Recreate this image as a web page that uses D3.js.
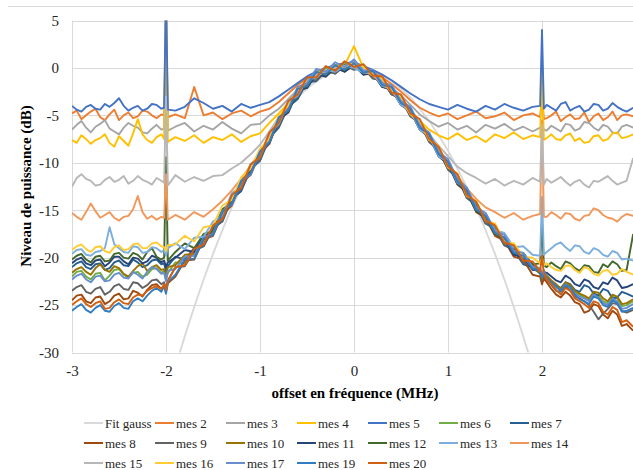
<!DOCTYPE html>
<html><head><meta charset="utf-8">
<script src="https://cdn.jsdelivr.net/npm/d3@7"></script>
<style>body{margin:0;background:#fff}svg{display:block}
svg text{font-family:"Liberation Serif","Times New Roman","DejaVu Serif",serif;}</style>
</head><body><svg id="c" width="633" height="470"></svg>
<script>
// ---- data ----
const freqMHz = [-3.0,-2.95,-2.9,-2.85,-2.8,-2.75,-2.7,-2.65,-2.6,-2.55,-2.5,-2.45,-2.4,-2.35,-2.3,-2.25,-2.2,-2.15,-2.1,-2.05,
 -2.02,-2.0,-1.98,
 -1.9,-1.8,-1.7,-1.6,-1.5,-1.4,-1.3,-1.2,-1.1,-1.0,-0.9,-0.8,-0.7,-0.6,-0.5,-0.4,-0.3,-0.2,-0.1,
 0.0,0.1,0.2,0.3,0.4,0.5,0.6,0.7,0.8,0.9,1.0,1.1,1.2,1.3,1.4,1.5,1.6,1.7,1.8,1.9,
 1.98,2.0,2.02,
 2.05,2.1,2.15,2.2,2.25,2.3,2.35,2.4,2.45,2.5,2.55,2.6,2.65,2.7,2.75,2.8,2.85,2.9,2.97];
const fitX = [-1.9,-1.8,-1.7,-1.6,-1.5,-1.4,-1.3,-1.2,-1.1,-1.0,-0.9,-0.8,-0.7,-0.6,-0.5,-0.4,-0.3,-0.2,-0.1,0,
 0.1,0.2,0.3,0.4,0.5,0.6,0.7,0.8,0.9,1.0,1.1,1.2,1.3,1.4,1.5,1.6,1.7,1.8,1.9];
const fitGauss = [-31.5,-28.3,-25.2,-22.3,-19.6,-17.1,-14.7,-12.6,-10.6,-8.7,-7.1,-5.6,-4.3,-3.1,-2.2,-1.4,-0.8,-0.3,-0.1,0,
 -0.1,-0.3,-0.8,-1.4,-2.2,-3.1,-4.3,-5.6,-7.1,-8.7,-10.6,-12.6,-14.7,-17.1,-19.6,-22.3,-25.2,-28.3,-31.5];

const mes2 = [-4.8,-4.5,-5.4,-5.0,-4.6,-4.3,-5.2,-5.5,-4.9,-4.4,-5.5,-5.0,-4.7,-5.3,-5.1,-4.5,-4.6,-5.0,-5.3,-4.9,
 -5.0,-0.9,-5.2,
 -4.9,-5.3,-2.0,-5.0,-4.7,-5.4,-4.8,-4.5,-5.1,-4.6,-4.3,-3.6,-2.7,-1.8,-1.1,-0.6,-0.2,0.1,0.3,0.4,
 -0.1,-0.4,-1.0,-1.7,-2.5,-3.4,-4.2,-4.7,-5.1,-4.8,-5.4,-5.0,-4.6,-5.3,-5.1,-4.7,-5.5,-5.0,-4.8,
 -5.2,-3.0,-5.4,
 -5.3,-5.0,-4.6,-5.6,-5.2,-4.9,-5.4,-5.3,-4.7,-5.7,-5.1,-4.8,-5.5,-5.2,-4.6,-5.5,-5.0,-4.9,-5.1];
const mes3 = [-6.5,-6.0,-5.6,-6.3,-6.8,-6.2,-5.9,-5.5,-6.4,-6.7,-7.0,-6.3,-5.8,-6.1,-6.3,-6.8,-6.9,-6.4,-6.0,-6.5,
 -6.4,8,-6.6,
 -6.2,-5.8,-6.7,-6.1,-6.5,-5.7,-6.4,-6.9,-6.0,-5.9,-5.0,-4.3,-3.3,-2.3,-1.4,-0.9,-0.5,-0.2,0.1,0.2,
 -0.4,-0.8,-1.4,-2.1,-2.9,-3.9,-4.9,-5.6,-6.2,-5.8,-6.5,-6.1,-6.8,-6.0,-6.4,-5.9,-6.6,-6.2,-6.7,
 -6.3,-6.0,-6.5,
 -6.6,-6.1,-6.4,-6.7,-5.9,-6.0,-6.6,-6.4,-5.7,-5.8,-6.3,-6.6,-6.0,-6.2,-6.8,-6.9,-6.2,-6.0,-6.3];
const mes4 = [-7.6,-7.9,-7.1,-7.5,-8.0,-7.6,-7.4,-7.0,-7.9,-8.3,-7.2,-7.7,-8.2,-6.9,-5.4,-7.0,-7.6,-7.9,-7.3,-7.0,
 -7.5,8,-7.8,
 -7.3,-7.7,-7.1,-7.9,-7.3,-7.6,-7.0,-7.8,-7.2,-6.9,-5.8,-4.8,-3.7,-2.6,-1.5,-0.8,-0.4,0.1,0.3,2.3,
 0.0,-0.5,-1.2,-2.2,-3.2,-4.4,-5.6,-6.5,-7.1,-7.5,-6.9,-7.6,-7.2,-7.8,-7.0,-7.4,-6.8,-7.5,-7.1,
 -7.3,-0.3,-7.6,
 -7.4,-7.0,-7.5,-7.6,-7.1,-6.9,-7.7,-7.4,-7.9,-7.8,-7.2,-7.1,-7.7,-7.5,-6.9,-6.8,-7.4,-7.3,-7.0];
const mes5 = [-4.0,-4.4,-4.6,-4.1,-3.9,-4.3,-4.4,-3.8,-4.1,-3.7,-3.2,-4.0,-4.5,-4.2,-4.0,-4.5,-4.3,-3.8,-3.9,-4.3,
 -4.2,8,-4.4,
 -4.5,-4.1,-3.2,-3.7,-4.3,-4.0,-4.6,-3.8,-4.2,-3.9,-3.6,-3.0,-2.3,-1.6,-0.9,-0.4,0.0,0.3,0.5,0.6,
 0.2,-0.2,-0.7,-1.3,-2.0,-2.7,-3.3,-3.8,-4.1,-4.4,-3.9,-4.3,-4.6,-4.0,-4.4,-3.8,-4.2,-4.5,-4.1,
 -4.0,4.0,-4.3,
 -3.9,-4.2,-4.5,-3.8,-3.6,-4.5,-4.2,-4.0,-4.6,-4.4,-3.8,-3.9,-4.5,-4.3,-3.7,-4.1,-4.4,-4.6,-4.2];
const mes6 = [-22.0,-21.5,-21.4,-22.0,-22.3,-21.7,-21.6,-22.4,-21.9,-21.3,-21.2,-21.8,-22.1,-21.6,-21.5,-22.0,-21.8,-21.2,-21.1,-21.6,
 -21.4,-22.3,-21.6,
 -20.5,-20.6,-19.2,-18.5,-16.7,-15.8,-13.5,-12.6,-10.4,-9.5,-7.0,-5.9,-3.7,-2.9,-1.1,-1.1,0.0,-0.4,0.5,0.0,
 0.2,-0.9,-1.1,-2.7,-3.0,-5.0,-5.6,-7.7,-8.4,-10.5,-11.3,-13.5,-14.2,-16.2,-16.7,-18.5,-18.8,-20.4,-20.5,
 -21.3,-22.0,-21.5,
 -22.0,-22.6,-23.1,-23.4,-22.7,-23.0,-23.7,-23.9,-24.2,-24.5,-23.8,-24.0,-24.6,-24.8,-24.1,-24.3,-25.1,-25.0,-24.6];
const mes7 = [-21.0,-20.6,-20.4,-21.0,-21.2,-20.7,-20.6,-21.3,-21.1,-20.5,-20.3,-20.8,-20.9,-20.2,-20.5,-21.0,-20.8,-20.3,-20.2,-20.7,
 -20.6,-21.5,-20.9,
 -19.9,-20.2,-19.0,-18.8,-16.9,-16.2,-13.8,-13.0,-10.7,-9.8,-7.4,-6.3,-4.1,-3.3,-1.5,-1.4,-0.3,-0.6,0.2,-0.1,
 0.0,-1.1,-1.3,-2.8,-3.2,-5.1,-5.8,-7.8,-8.7,-10.7,-11.6,-13.7,-14.5,-16.4,-17.0,-18.7,-19.2,-20.7,-21.0,
 -21.7,-22.3,-21.9,
 -22.0,-22.5,-22.9,-23.2,-22.6,-22.8,-23.4,-23.6,-22.9,-23.1,-23.8,-24.0,-23.3,-23.5,-24.3,-24.2,-23.6,-23.8,-24.1];
const mes8 = [-24.5,-24.0,-23.9,-24.6,-24.8,-24.2,-24.1,-24.9,-24.6,-24.0,-23.8,-24.4,-24.3,-23.5,-23.7,-24.1,-23.4,-22.9,-22.8,-23.3,
 -23.0,-23.6,-22.7,
 -22.0,-20.3,-20.2,-18.1,-17.7,-15.4,-14.5,-12.1,-11.3,-9.0,-8.0,-5.4,-4.7,-2.4,-2.1,-0.6,-0.9,0.1,-0.4,0.3,
 -0.7,-0.5,-2.0,-2.2,-3.9,-4.5,-6.5,-7.2,-9.3,-10.1,-12.3,-13.1,-15.2,-15.8,-17.7,-18.2,-19.9,-20.2,-21.8,
 -22.0,-22.8,-22.2,
 -22.6,-23.3,-23.9,-24.2,-23.6,-24.0,-24.7,-24.9,-25.8,-25.6,-24.9,-25.1,-26.0,-26.4,-25.6,-26.0,-27.2,-27.0,-27.7];
const mes9 = [-23.5,-23.1,-22.9,-23.6,-23.8,-23.3,-23.1,-23.9,-23.6,-23.0,-22.8,-23.3,-23.4,-22.6,-22.7,-23.2,-22.9,-22.4,-22.3,-22.8,
 -22.6,-23.3,-22.4,
 -21.0,-20.9,-19.3,-18.8,-16.9,-16.1,-13.7,-12.8,-10.5,-9.7,-7.2,-6.1,-3.9,-3.1,-1.3,-1.3,-0.2,-0.6,0.3,-0.2,
 0.0,-1.1,-1.3,-2.8,-3.2,-5.1,-5.8,-7.8,-8.6,-10.7,-11.5,-13.7,-14.4,-16.4,-16.9,-18.7,-19.0,-20.6,-20.7,
 -21.6,-22.4,-21.8,
 -22.3,-22.9,-23.5,-23.6,-23.0,-23.4,-24.1,-24.3,-24.6,-25.0,-25.7,-26.5,-25.9,-25.4,-24.8,-24.9,-25.6,-25.8,-25.5];
const mes10 = [-21.6,-21.2,-21.0,-21.5,-21.8,-21.1,-20.7,-21.3,-21.5,-20.9,-21.1,-21.7,-22.0,-21.4,-20.9,-20.6,-21.4,-21.0,-20.8,-21.3,
 -21.2,-22.0,-21.0,
 -20.8,-19.7,-19.6,-17.9,-17.4,-15.2,-14.3,-12.0,-11.1,-8.8,-7.8,-5.2,-4.5,-2.2,-1.9,-0.4,-0.7,0.3,-0.2,0.5,
 -0.5,-0.4,-1.8,-2.1,-3.7,-4.4,-6.3,-7.1,-9.1,-9.9,-12.0,-12.9,-14.9,-15.6,-17.4,-17.9,-19.5,-19.8,-21.2,
 -21.5,-22.2,-21.6,
 -21.9,-22.4,-22.8,-23.3,-22.6,-22.9,-23.5,-23.8,-24.0,-24.3,-23.6,-23.7,-24.3,-24.6,-23.9,-24.1,-24.9,-24.8,-24.4];
const mes11 = [-20.6,-20.2,-20.0,-20.6,-20.8,-20.3,-20.2,-20.9,-20.5,-19.9,-19.9,-20.4,-20.7,-20.0,-20.1,-20.6,-20.4,-19.8,-20.0,-20.5,
 -20.3,-21.0,-20.5,
 -20.0,-19.2,-19.4,-17.6,-17.5,-15.2,-14.4,-12.0,-11.2,-8.9,-7.9,-5.4,-4.7,-2.4,-2.1,-0.7,-0.9,0.0,-0.4,0.3,
 -0.7,-0.6,-2.0,-2.3,-3.9,-4.6,-6.5,-7.3,-9.3,-10.1,-12.2,-13.1,-15.1,-15.7,-17.5,-18.0,-19.7,-19.9,-21.3,
 -21.3,-21.9,-21.5,
 -21.6,-22.0,-22.4,-22.6,-21.9,-22.2,-22.8,-23.0,-22.3,-22.5,-23.1,-23.3,-22.6,-22.8,-22.1,-22.4,-23.2,-23.1,-22.8];
const mes12 = [-20.2,-19.8,-19.6,-20.2,-20.5,-19.9,-19.8,-20.4,-20.3,-19.6,-19.5,-20.0,-20.1,-19.5,-19.7,-20.2,-19.4,-19.0,-19.9,-20.2,
 -20.0,-9.4,-20.3,
 -19.4,-18.5,-19.0,-17.5,-17.2,-14.9,-14.2,-11.8,-11.0,-8.7,-7.8,-5.4,-4.5,-2.4,-1.9,-0.6,-0.7,0.0,-0.2,0.3,
 -0.5,-0.6,-1.8,-2.3,-3.7,-4.5,-6.4,-7.2,-9.2,-10.0,-12.1,-13.0,-15.0,-15.7,-17.5,-18.0,-19.4,-19.5,-20.7,
 -20.6,-16.5,-20.8,
 -21.0,-20.5,-20.9,-21.2,-20.4,-20.6,-21.1,-21.4,-20.8,-20.9,-21.5,-21.6,-20.7,-21.0,-20.4,-20.7,-21.4,-21.3,-17.5];
const mes13 = [-19.6,-19.2,-19.1,-19.7,-19.8,-19.4,-19.3,-19.0,-16.8,-18.6,-19.0,-19.4,-19.5,-18.8,-18.9,-19.5,-19.4,-18.9,-19.0,-19.4,
 -19.2,-19.8,-19.0,
 -18.5,-19.1,-17.9,-17.8,-16.2,-15.6,-13.2,-12.5,-10.1,-9.4,-6.9,-5.9,-3.7,-2.9,-1.3,-1.0,-0.2,-0.4,0.2,0.0,
 -0.5,-0.6,-1.9,-2.2,-3.9,-4.5,-6.5,-7.2,-9.3,-9.9,-12.1,-12.7,-14.9,-15.3,-17.1,-17.4,-18.9,-18.8,-19.7,
 -19.8,-13.6,-19.7,
 -19.4,-19.0,-18.6,-18.4,-18.9,-19.3,-18.7,-18.8,-19.4,-19.6,-19.0,-19.2,-19.7,-19.9,-19.3,-19.5,-20.2,-20.1,-20.3];
const mes14 = [-15.3,-15.7,-16.0,-15.2,-14.3,-15.1,-15.8,-15.5,-15.2,-15.8,-16.1,-15.7,-15.6,-14.9,-13.5,-15.2,-15.9,-15.6,-16.0,-15.7,
 -15.8,-11.2,-16.0,
 -15.5,-16.0,-15.2,-15.7,-14.9,-14.0,-12.9,-11.7,-10.3,-8.9,-7.2,-5.4,-3.9,-2.5,-1.4,-0.8,-0.4,0.0,0.2,0.2,
 -0.3,-0.8,-1.6,-2.5,-3.5,-4.8,-6.1,-7.4,-8.7,-10.0,-11.4,-12.7,-13.8,-14.7,-15.2,-15.8,-15.3,-16.0,-15.6,
 -15.4,-5.5,-15.7,
 -15.7,-15.2,-15.5,-15.9,-15.3,-15.4,-15.9,-16.1,-15.6,-15.5,-14.8,-15.0,-15.5,-15.8,-15.9,-16.2,-15.7,-15.4,-15.6];
const mes15 = [-12.5,-11.6,-11.2,-11.7,-11.9,-12.4,-12.3,-11.8,-11.5,-12.0,-11.8,-11.4,-12.2,-11.9,-11.4,-11.8,-12.0,-12.3,-11.6,-11.9,
 -12.1,-3.0,-12.4,
 -11.3,-12.0,-11.5,-11.9,-11.4,-11.3,-10.6,-10.0,-9.1,-8.1,-6.7,-5.2,-3.9,-2.5,-1.4,-0.7,-0.3,0.0,0.2,0.3,
 -0.1,-0.6,-1.3,-2.3,-3.3,-4.5,-5.8,-7.0,-8.2,-9.3,-10.4,-11.1,-11.6,-12.2,-11.7,-12.4,-11.9,-12.3,-11.6,
 -12.0,-6.0,-12.3,
 -11.7,-12.1,-11.8,-11.5,-12.0,-12.4,-12.0,-11.8,-12.3,-12.6,-11.9,-12.0,-11.7,-11.4,-11.9,-12.3,-12.1,-11.9,-9.5];
const mes16 = [-19.2,-18.8,-18.6,-19.1,-19.4,-18.9,-18.8,-19.3,-19.5,-18.9,-18.7,-19.2,-19.1,-18.6,-18.5,-19.0,-19.0,-18.5,-18.4,-18.8,
 -18.9,-19.3,-18.7,
 -18.6,-17.7,-18.3,-16.8,-16.6,-14.5,-13.9,-11.5,-10.6,-8.5,-7.5,-5.0,-4.0,-2.1,-1.5,-0.4,-0.3,0.3,0.1,0.5,
 0.1,-0.7,-1.1,-2.5,-3.0,-4.9,-5.5,-7.6,-8.2,-10.5,-11.1,-13.5,-14.0,-16.1,-16.4,-18.3,-18.5,-19.9,-20.0,
 -20.6,-20.0,-20.8,
 -20.6,-21.0,-21.3,-21.4,-20.9,-20.8,-21.3,-21.6,-21.0,-21.2,-21.7,-21.9,-21.4,-21.3,-21.8,-21.7,-21.2,-21.5,-21.8];
const mes17 = [-22.3,-21.9,-21.7,-22.3,-22.6,-22.0,-21.9,-22.5,-22.4,-21.8,-21.6,-22.1,-22.2,-21.5,-21.8,-22.2,-21.5,-21.0,-21.2,-21.7,
 -21.6,-22.5,-21.4,
 -21.2,-19.9,-19.8,-17.9,-17.5,-15.1,-14.4,-12.0,-11.2,-8.9,-7.8,-5.3,-4.4,-2.0,-1.6,-0.1,-0.4,0.6,0.1,0.9,
 -0.3,-0.2,-1.6,-1.8,-3.5,-4.1,-6.1,-6.8,-8.9,-9.6,-11.8,-12.6,-14.7,-15.3,-17.2,-17.6,-19.3,-19.5,-21.0,
 -21.1,-21.8,-21.3,
 -22.2,-22.7,-23.1,-23.5,-22.8,-23.2,-23.8,-24.1,-24.3,-24.6,-23.9,-24.2,-24.8,-25.0,-24.3,-24.6,-25.4,-25.3,-24.9];
const mes19 = [-25.6,-25.2,-24.9,-25.5,-25.8,-25.3,-25.0,-25.6,-25.7,-25.1,-24.8,-25.3,-25.4,-24.6,-24.3,-24.6,-24.0,-23.5,-23.2,-23.6,
 -23.0,-23.8,-22.6,
 -21.8,-20.2,-20.1,-18.0,-17.6,-15.2,-14.3,-11.9,-11.1,-8.8,-7.8,-5.2,-4.5,-2.2,-1.9,-0.4,-0.7,0.3,-0.2,0.5,
 -0.5,-0.3,-1.8,-2.0,-3.7,-4.3,-6.3,-7.0,-9.1,-9.9,-12.0,-12.9,-14.9,-15.6,-17.4,-17.9,-19.5,-19.8,-21.2,
 -21.4,-22.1,-21.6,
 -22.2,-22.6,-23.0,-23.5,-22.9,-23.1,-23.9,-24.4,-24.6,-24.9,-24.1,-24.3,-25.0,-25.2,-24.5,-24.8,-25.7,-25.6,-25.3];
const mes20 = [-25.0,-24.6,-24.3,-24.9,-25.2,-24.8,-24.6,-25.4,-25.3,-24.7,-24.4,-24.8,-24.9,-24.2,-23.9,-24.0,-23.5,-23.2,-23.0,-23.3,
 -22.8,-23.4,-22.5,
 -21.0,-20.8,-19.1,-18.6,-16.6,-15.9,-13.4,-12.6,-10.2,-9.4,-6.8,-5.8,-3.5,-2.8,-1.0,-1.0,0.2,-0.3,0.7,0.1,
 0.4,-0.8,-0.9,-2.6,-2.8,-4.8,-5.4,-7.5,-8.3,-10.4,-11.2,-13.4,-14.1,-16.1,-16.6,-18.4,-18.7,-20.3,-20.4,
 -21.5,-19.8,-21.7,
 -22.3,-22.8,-23.4,-23.9,-23.2,-23.5,-24.3,-24.6,-24.9,-25.3,-24.6,-24.8,-25.7,-26.0,-25.2,-25.5,-26.8,-26.6,-27.3];

const seriesNames = ["Fit gauss","mes 2","mes 3","mes 4","mes 5","mes 6","mes 7","mes 8","mes 9","mes 10",
 "mes 11","mes 12","mes 13","mes 14","mes 15","mes 16","mes 17","mes 19","mes 20"];
const seriesColors = ["#D9D9D9","#ED7D31","#A5A5A5","#FFC000","#4472C4","#70AD47","#255E91","#9E480E","#636363","#997300",
 "#264478","#43682B","#7CAFDD","#F1975A","#B7B7B7","#FFCD33","#698ED0","#327DC2","#D26012"];
const yTicks = [5,0,-5,-10,-15,-20,-25,-30];
const xTicks = [-3,-2,-1,0,1,2];
const xTitle = "offset en fréquence (MHz)";
const yTitle = "Niveau de puissance (dB)";

const measValues = [mes2,mes3,mes4,mes5,mes6,mes7,mes8,mes9,mes10,mes11,mes12,mes13,mes14,mes15,mes16,mes17,mes19,mes20];
const series = [{name: seriesNames[0], color: seriesColors[0], pts: fitX.map((f,i)=>[f, fitGauss[i]])}]
  .concat(measValues.map((arr,k)=>({name: seriesNames[k+1], color: seriesColors[k+1], pts: freqMHz.map((f,i)=>[f, arr[i]])})));

// ---- drawing ----
const svg = d3.select("#c");
const W = 633, H = 470;
const L = 72, R = 636, T = 20.5, B = 352.5;
const x = d3.scaleLinear().domain([-3,3]).range([L,R]);
const y = d3.scaleLinear().domain([-30,5]).range([B,T]);
const FONT = "Liberation Serif, Times New Roman, DejaVu Serif, serif";
const fmt = d => String(d);

svg.append("line").attr("x1",8).attr("x2",W).attr("y1",6.5).attr("y2",6.5).attr("stroke","#D9D9D9");

const grid = svg.append("g");
grid.selectAll(".h").data(yTicks).join("line")
  .attr("x1",L).attr("x2",W).attr("y1",d=>Math.round(y(d))+0.5).attr("y2",d=>Math.round(y(d))+0.5)
  .attr("stroke","#D9D9D9").attr("stroke-width",1);
grid.selectAll(".v").data(xTicks).join("line")
  .attr("y1",T).attr("y2",B).attr("x1",d=>Math.round(x(d))+0.5).attr("x2",d=>Math.round(x(d))+0.5)
  .attr("stroke","#D9D9D9").attr("stroke-width",1);

svg.append("defs").append("clipPath").attr("id","clip")
  .append("rect").attr("x",L).attr("y",T).attr("width",W-L).attr("height",B-T);

const line = d3.line().x(d=>x(d[0])).y(d=>y(d[1]));
const plot = svg.append("g").attr("clip-path","url(#clip)");
plot.selectAll("path").data(series).join("path")
  .attr("d",d=>line(d.pts)).attr("fill","none")
  .attr("stroke",d=>d.color).attr("stroke-width",1.9).attr("stroke-linejoin","round");

const yAxis = svg.append("g").attr("transform",`translate(${L},0)`)
  .call(d3.axisLeft(y).tickValues(yTicks).tickFormat(fmt).tickSize(0).tickPadding(13));
const xAxis = svg.append("g").attr("transform",`translate(0,${B})`)
  .call(d3.axisBottom(x).tickValues(xTicks).tickFormat(fmt).tickSize(0).tickPadding(13));
[yAxis,xAxis].forEach(a=>{a.select(".domain").remove(); a.attr("font-family",FONT);
  a.selectAll("text").attr("font-family",FONT).attr("font-size",15).attr("fill","#262626");});

svg.append("text").attr("x",355).attr("y",398).attr("text-anchor","middle")
  .attr("font-family",FONT).attr("font-weight","bold").attr("font-size",15).attr("fill","#000").text(xTitle);
svg.append("text").attr("transform","translate(31,186) rotate(-90)").attr("text-anchor","middle")
  .attr("font-family",FONT).attr("font-weight","bold").attr("font-size",15).attr("fill","#000").text(yTitle);

const leg = svg.append("g");
series.forEach((s,i)=>{
  const row = Math.floor(i/7), col = i%7;
  const gx = 84 + col*71, gy = 423 + row*20;
  leg.append("line").attr("x1",gx).attr("x2",gx+19).attr("y1",gy).attr("y2",gy)
    .attr("stroke",s.color).attr("stroke-width",2);
  leg.append("text").attr("x",gx+21).attr("y",gy+4.5).attr("font-family",FONT).attr("font-size",13)
    .attr("fill","#262626").text(s.name);
});
</script></body></html>
